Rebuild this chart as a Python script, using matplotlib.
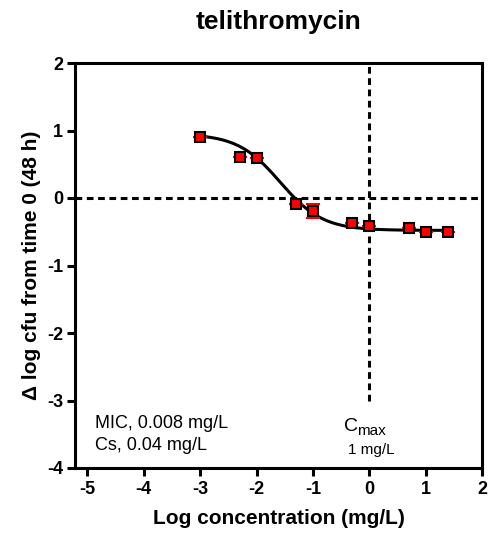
import numpy as np
import matplotlib
matplotlib.use("Agg")
import matplotlib.pyplot as plt

plt.rcParams['font.family'] = ['Liberation Sans', 'DejaVu Sans']

# data
log_conc = [-3.0, -2.3, -2.0, -1.3, -1.0, -0.3, 0.0, 0.7, 1.0, 1.4]
delta_log = [0.91, 0.61, 0.60, -0.09, -0.19, -0.375, -0.415, -0.45, -0.50, -0.50]
err = [0.0, 0.0, 0.0, 0.0, 0.10, 0.0, 0.0, 0.0, 0.0, 0.0]

# sigmoid fit parameters
fit_top = 0.95
fit_bottom = -0.48
fit_logec50 = -1.58
fit_hill = 1.15

xticks = [-5, -4, -3, -2, -1, 0, 1, 2]
yticks = [-4, -3, -2, -1, 0, 1, 2]

W, H = 491, 533
fig = plt.figure(figsize=(W / 100, H / 100), dpi=100)
ax_l, ax_r, ax_t, ax_b = 75, 482, 63, 468
ax = fig.add_axes([ax_l / W, 1 - ax_b / H, (ax_r - ax_l) / W, (ax_b - ax_t) / H])

xs = np.linspace(min(log_conc), max(log_conc), 300)
ys = fit_bottom + (fit_top - fit_bottom) / (1 + 10 ** ((xs - fit_logec50) * fit_hill))
ax.plot(xs, ys, color='black', lw=2.2, zorder=3)

dash = (0, (2.2, 1.5))
ax.axhline(0, color='black', lw=2.2, ls=dash, zorder=2)
ax.plot([0, 0], [-3, 2], color='black', lw=2.2, ls=dash, zorder=2)

ax.errorbar(log_conc, delta_log, yerr=err, fmt='none', ecolor='red', elinewidth=1.5,
            capsize=5, capthick=1.5, zorder=4)
ax.plot(log_conc, delta_log, ls='none', marker='s', ms=7, mfc='red', mec='black',
        mew=1.5, zorder=5)

ax.set_xlim(-5.22, 2.0)
ax.set_ylim(-4, 2)
ax.set_xticks(xticks)
ax.set_yticks(yticks)
ax.set_xticklabels([str(t) for t in xticks], fontweight='bold', fontsize=13)
ax.set_yticklabels([str(t) for t in yticks], fontweight='bold', fontsize=13)
ax.tick_params(direction='out', length=6, width=2.2)
ax.tick_params(axis='x', pad=3.5)
ax.tick_params(axis='y', pad=2.5)
for s in ax.spines.values():
    s.set_linewidth(2.2)

ax.set_title('telithromycin', fontweight='bold', fontsize=19, pad=0,
             y=(ax_b - 29) / (ax_b - ax_t), va='baseline')
ax.set_xlabel('Log concentration (mg/L)', fontweight='bold', fontsize=15)
ax.xaxis.label.set_va('baseline')
ax.xaxis.set_label_coords(0.5, (ax_b - 524) / (ax_b - ax_t))
ax.set_ylabel('Δ log cfu from time 0 (48 h)', fontweight='bold', fontsize=15)
ax.yaxis.set_label_coords((41 - ax_l) / (ax_r - ax_l), 0.5)

ax.text(-4.87, -3.40, 'MIC, 0.008 mg/L', fontsize=13, va='baseline', ha='left')
ax.text(-4.87, -3.74, 'Cs, 0.04 mg/L', fontsize=13, va='baseline', ha='left')
ax.text(-0.45, -3.45, 'C', fontsize=14, va='baseline', ha='left')
ax.text(-0.21, -3.51, 'max', fontsize=11, va='baseline', ha='left')
ax.text(-0.38, -3.79, '1 mg/L', fontsize=11, va='baseline', ha='left')

fig.savefig('out.png', dpi=100)
